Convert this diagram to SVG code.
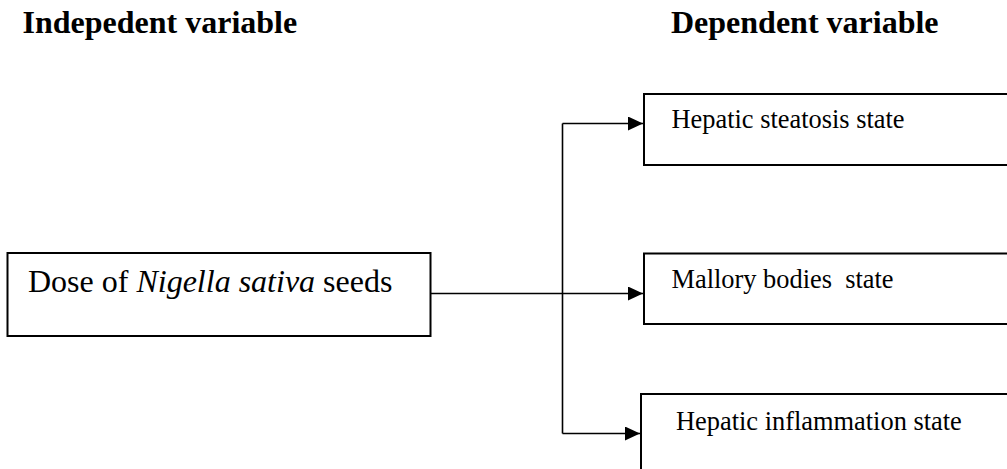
<svg xmlns="http://www.w3.org/2000/svg" width="1007" height="469" viewBox="0 0 1007 469">
  <style>
    .head { font-family: "Liberation Serif", "Times New Roman", serif; font-weight: bold; font-size: 32px; fill: #000; }
    .main { font-family: "Liberation Serif", "Times New Roman", serif; font-size: 32px; fill: #000; }
    .lbl { font-family: "Liberation Serif", "Times New Roman", serif; font-size: 26.4px; fill: #000; }
    .box { fill: #fff; stroke: #000; stroke-width: 2; }
    .conn { fill: none; stroke: #000; stroke-width: 1.6; }
  </style>
  <defs>
    <marker id="arrow" markerUnits="userSpaceOnUse" markerWidth="15" markerHeight="14" refX="15" refY="7" orient="auto">
      <path d="M0,0 L15,7 L0,14 Z" fill="#000"/>
    </marker>
  </defs>
  <rect width="1007" height="469" fill="#fff"/>

  <text class="head" x="22.5" y="33">Indepedent variable</text>
  <text class="head" x="671" y="33">Dependent variable</text>

  <g id="connectors">
    <path class="conn" d="M430.5,293.5 H643" marker-end="url(#arrow)"/>
    <path class="conn" d="M562.5,123.5 V433.5"/>
    <path class="conn" d="M562.5,123.5 H643" marker-end="url(#arrow)"/>
    <path class="conn" d="M562.5,433.5 H640" marker-end="url(#arrow)"/>
  </g>

  <g id="node-dose">
    <rect class="box" x="7.5" y="253" width="423" height="83"/>
    <text class="main" x="28" y="291.5">Dose of <tspan font-style="italic">Nigella sativa</tspan> seeds</text>
  </g>

  <g id="node-steatosis">
    <rect class="box" x="644" y="94" width="380" height="71"/>
    <text class="lbl" x="671.5" y="128">Hepatic steatosis state</text>
  </g>

  <g id="node-mallory">
    <rect class="box" x="644" y="253.5" width="380" height="70.5"/>
    <text class="lbl" x="671.5" y="287.5" xml:space="preserve">Mallory bodies  state</text>
  </g>

  <g id="node-inflammation">
    <rect class="box" x="641" y="394" width="380" height="90"/>
    <text class="lbl" x="676" y="429.5">Hepatic inflammation state</text>
  </g>
</svg>
